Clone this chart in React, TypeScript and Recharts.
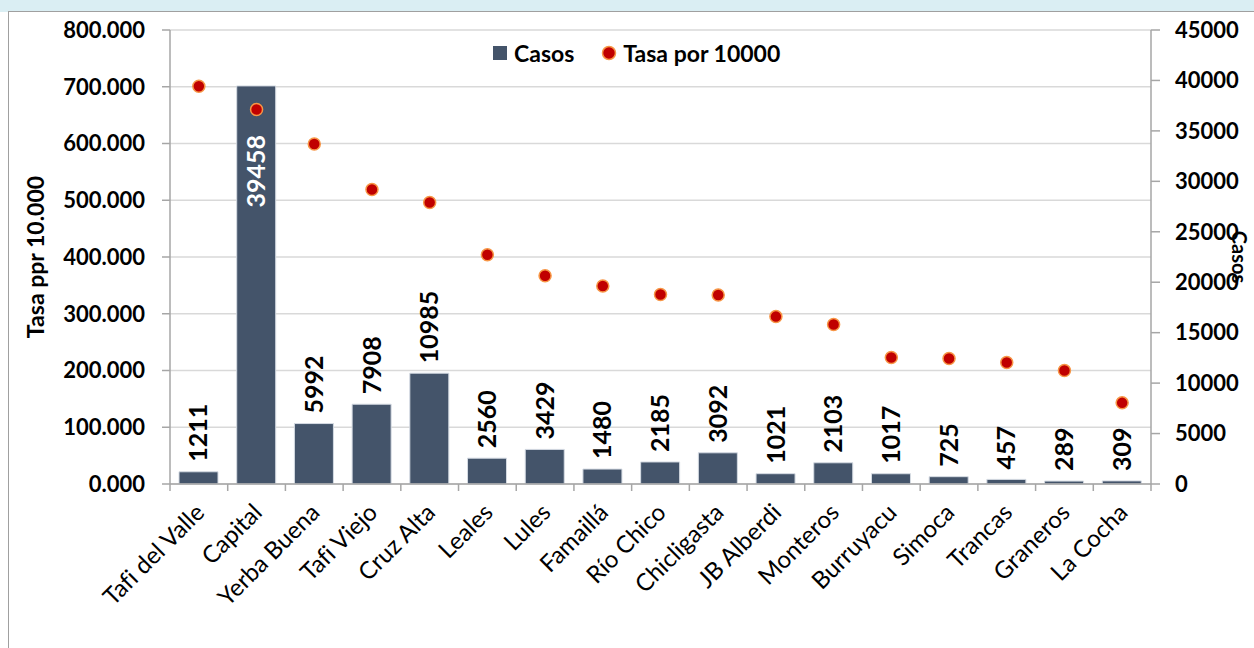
import React from "react";
import {
  ComposedChart,
  Bar,
  Line,
  XAxis,
  YAxis,
  CartesianGrid,
  LabelList,
} from "recharts";

const CATEGORIES = [
  "Tafi del Valle",
  "Capital",
  "Yerba Buena",
  "Tafi Viejo",
  "Cruz Alta",
  "Leales",
  "Lules",
  "Famaillá",
  "Río Chico",
  "Chicligasta",
  "JB Alberdi",
  "Monteros",
  "Burruyacu",
  "Simoca",
  "Trancas",
  "Graneros",
  "La Cocha",
];

const CASOS = [1211, 39458, 5992, 7908, 10985, 2560, 3429, 1480, 2185, 3092, 1021, 2103, 1017, 725, 457, 289, 309];

const TASA = [701, 660, 599, 519, 496, 404, 367, 349, 334, 333, 295, 281, 223, 221, 214, 200, 143];

const LEFT_TICKS = [0, 100, 200, 300, 400, 500, 600, 700, 800];
const RIGHT_TICKS = [0, 5000, 10000, 15000, 20000, 25000, 30000, 35000, 40000, 45000];

const data = CATEGORIES.map((name, i) => ({ name, casos: CASOS[i], tasa: TASA[i] }));

const W = 1254;
const H = 648;
const LEFT_W = 170;
const RIGHT_W = 103;
const PLOT_W = W - LEFT_W - RIGHT_W;
const FONT = "Lato, 'Open Sans', sans-serif";
const BAR_COLOR = "#44546a";
const AXIS_COLOR = "#a6a6a6";

const CategoryTick = (props: any) => {
  const { x, y, payload, index } = props;
  const half = PLOT_W / CATEGORIES.length / 2;
  const tx = x + 7;
  const ty = y + 30;
  return (
    <g>
      <line x1={x - half} x2={x - half} y1={y} y2={y + 7} stroke={AXIS_COLOR} strokeWidth={1.5} />
      {index === CATEGORIES.length - 1 && (
        <line x1={x + half} x2={x + half} y1={y} y2={y + 7} stroke={AXIS_COLOR} strokeWidth={1.5} />
      )}
      <text
        x={tx}
        y={ty}
        transform={`rotate(-45, ${tx}, ${ty})`}
        textAnchor="end"
        fontFamily={FONT}
        fontSize={24}
        fill="#000"
        style={{ fontVariantLigatures: "none" }}
      >
        {payload.value}
      </text>
    </g>
  );
};

const BarValueLabel = (props: any) => {
  const { x, y, width, value } = props;
  const cx = x + width / 2;
  const inside = value > 30000;
  const ty = inside ? y + 49 : y - 10;
  return (
    <text
      x={cx}
      y={ty}
      dy="0.36em"
      transform={`rotate(-90, ${cx}, ${ty})`}
      textAnchor={inside ? "end" : "start"}
      fontFamily={FONT}
      fontWeight="bold"
      fontSize={25}
      fill={inside ? "#fff" : "#000"}
    >
      {value}
    </text>
  );
};

const ChartLegend = () => (
  <div
    style={{
      position: "absolute",
      left: 493,
      top: 40,
      display: "flex",
      alignItems: "center",
      fontFamily: FONT,
      fontWeight: "bold",
      fontSize: 23,
      color: "#000",
      lineHeight: "26px",
    }}
  >
    <span style={{ width: 14, height: 14, background: BAR_COLOR, display: "inline-block", marginRight: 7 }} />
    <span>Casos</span>
    <svg width={16} height={16} style={{ marginLeft: 27, marginRight: 6 }}>
      <circle cx={8} cy={8} r={6.5} fill="#c00000" stroke="#f79646" strokeWidth={1.5} />
    </svg>
    <span>Tasa por 10000</span>
  </div>
);

export default function App() {
  const tickStyle = { fontFamily: FONT, fontWeight: "bold", fontSize: 22, fill: "#000" };
  return (
    <div style={{ position: "absolute", left: 0, top: 0, width: W, height: H, background: "#fff", overflow: "hidden" }}>
      <div style={{ position: "absolute", left: 0, top: 0, width: W, height: 12, background: "#daeef3" }} />
      <div
        style={{
          position: "absolute",
          left: 8,
          top: 11,
          width: W,
          height: H,
          borderLeft: "1.5px solid #a0a0a0",
          borderTop: "1.5px solid #a0a0a0",
        }}
      />
      <div style={{ position: "absolute", left: 0, top: 0 }}>
        <ComposedChart width={W} height={H} data={data} margin={{ top: 30, right: 0, bottom: 0, left: 0 }}>
          <CartesianGrid yAxisId="left" vertical={false} stroke="#d9d9d9" strokeWidth={1.5} />
          <XAxis
            dataKey="name"
            interval={0}
            height={H - 484}
            tickSize={0}
            tickMargin={0}
            tick={<CategoryTick />}
            stroke={AXIS_COLOR}
            strokeWidth={1.5}
          />
          <YAxis
            yAxisId="left"
            orientation="left"
            width={LEFT_W}
            domain={[0, 800]}
            ticks={LEFT_TICKS}
            interval={0}
            tickFormatter={(v: number) => v.toFixed(3)}
            tick={tickStyle}
            tickSize={8}
            tickMargin={17}
            stroke={AXIS_COLOR}
            strokeWidth={1.5}
            label={{
              value: "Tasa ppr 10.000",
              angle: -90,
              position: "insideLeft",
              offset: 0,
              dx: 36,
              style: { fontFamily: FONT, fontWeight: "bold", fontSize: 23, fill: "#000", textAnchor: "middle" },
            }}
          />
          <YAxis
            yAxisId="right"
            orientation="right"
            width={RIGHT_W}
            domain={[0, 45000]}
            ticks={RIGHT_TICKS}
            interval={0}
            tick={{ ...tickStyle, textAnchor: "start" }}
            tickSize={9}
            tickMargin={15}
            stroke={AXIS_COLOR}
            strokeWidth={1.5}
            label={{
              value: "Casos",
              angle: 90,
              position: "insideRight",
              offset: 0,
              dx: -15,
              style: { fontFamily: FONT, fontWeight: "bold", fontSize: 20, fill: "#000", textAnchor: "middle" },
            }}
          />
          <Bar
            yAxisId="right"
            dataKey="casos"
            name="Casos"
            fill={BAR_COLOR}
            stroke="#d5dbe3"
            strokeWidth={1}
            barSize={39}
            isAnimationActive={false}
          >
            <LabelList dataKey="casos" content={<BarValueLabel />} />
          </Bar>
          <Line
            yAxisId="left"
            dataKey="tasa"
            name="Tasa por 10000"
            stroke="none"
            dot={{ r: 6, fill: "#c00000", stroke: "#f79646", strokeWidth: 1.5 }}
            activeDot={false}
            isAnimationActive={false}
          />
        </ComposedChart>
      </div>
      <ChartLegend />
    </div>
  );
}
